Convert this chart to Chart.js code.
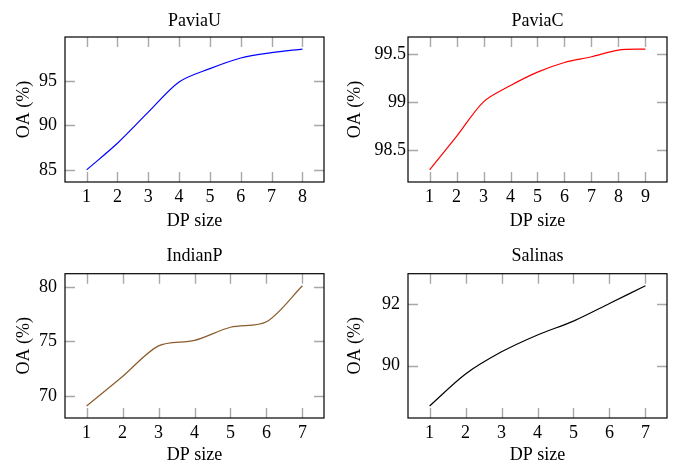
<!DOCTYPE html>
<html>
<head>
<meta charset="utf-8">
<script src="https://cdn.jsdelivr.net/npm/chart.js@4.4.0/dist/chart.umd.min.js"></script>
<style>
    body { margin: 0; background: #fff; }
    .cell { position: absolute; width: 343px; height: 233px; }
</style>
</head>
<body>
<div class="cell" style="left:0;top:0"><canvas id="paviaU" width="343" height="233"></canvas></div>
<div class="cell" style="left:343px;top:0"><canvas id="paviaC" width="343" height="233"></canvas></div>
<div class="cell" style="left:0;top:233px"><canvas id="indianP" width="343" height="233"></canvas></div>
<div class="cell" style="left:343px;top:233px"><canvas id="salinas" width="343" height="233"></canvas></div>
<script>
// ================= Data =================
const paviaUSize = [1, 2, 3, 4, 5, 6, 7, 8];
const paviaUOA = [85.0, 88.0, 91.5, 94.9, 96.4, 97.6, 98.2, 98.6];

const paviaCSize = [1, 2, 3, 4, 5, 6, 7, 8, 9];
const paviaCOA = [98.29, 98.64, 99.0, 99.17, 99.31, 99.41, 99.47, 99.54, 99.55];

const indianPSize = [1, 2, 3, 4, 5, 6, 7];
const indianPOA = [69.1, 71.8, 74.6, 75.1, 76.3, 76.8, 80.1];

const salinasSize = [1, 2, 3, 4, 5, 6, 7];
const salinasOA = [88.69, 89.73, 90.45, 91.0, 91.45, 92.02, 92.6];

const FONT = "'Liberation Serif', 'Times New Roman', serif";

// pgfplots style: box + grey ticks pointing inward on all four sides
const boxTicks = {
    id: "boxTicks",
    afterDraw(chart) {
        const { ctx, chartArea: a, scales } = chart;
        const len = 10;
        ctx.save();
        ctx.strokeStyle = "#a8a8a8";
        ctx.lineWidth = 1.4;
        ctx.beginPath();
        scales.x.ticks.forEach(t => {
            const px = Math.round(scales.x.getPixelForValue(t.value)) + 0.5;
            ctx.moveTo(px, a.bottom); ctx.lineTo(px, a.bottom - len);
            ctx.moveTo(px, a.top); ctx.lineTo(px, a.top + len);
        });
        scales.y.ticks.forEach(t => {
            const py = Math.round(scales.y.getPixelForValue(t.value)) + 0.5;
            ctx.moveTo(a.left, py); ctx.lineTo(a.left + len, py);
            ctx.moveTo(a.right, py); ctx.lineTo(a.right - len, py);
        });
        ctx.stroke();
        ctx.strokeStyle = "#000";
        ctx.lineWidth = 1.2;
        ctx.strokeRect(a.left, a.top, a.right - a.left, a.bottom - a.top);
        ctx.restore();
    }
};

function makeChart(id, title, sizes, values, color, yStep, cfg) {
    const xMin = Math.min(...sizes), xMax = Math.max(...sizes);
    const yMin = Math.min(...values), yMax = Math.max(...values);
    const xPad = (xMax - xMin) * 0.1, yPad = (yMax - yMin) * 0.1;

    return new Chart(document.getElementById(id), {
        type: "line",
        data: {
            datasets: [{
                data: sizes.map((s, i) => ({ x: s, y: values[i] })),
                borderColor: color,
                borderWidth: 1.2,
                pointRadius: 0,
                tension: 0.3,
                fill: false
            }]
        },
        options: {
            responsive: false,
            animation: false,
            layout: { padding: { left: 0, right: 19, top: cfg.top, bottom: 0 } },
            plugins: {
                legend: { display: false },
                tooltip: { enabled: false },
                title: {
                    display: true,
                    fullSize: false,   // centre over the plot box, like pgfplots
                    text: title,
                    color: "#000",
                    font: { family: FONT, size: 18, weight: "normal" },
                    padding: { top: 10, bottom: cfg.titleGap }
                }
            },
            scales: {
                x: {
                    type: "linear",
                    min: xMin - xPad,
                    max: xMax + xPad,
                    grid: { display: false, drawTicks: false },
                    border: { display: false },
                    ticks: {
                        stepSize: 1,
                        includeBounds: false,
                        padding: 4,
                        color: "#000",
                        font: { family: FONT, size: 18 }
                    },
                    title: {
                        display: true,
                        text: "DP size",
                        color: "#000",
                        font: { family: FONT, size: 18 },
                        padding: { top: 0, bottom: cfg.xTitlePad }
                    },
                    afterFit: s => { s.height = cfg.xHeight; }
                },
                y: {
                    min: yMin - yPad,
                    max: yMax + yPad,
                    grid: { display: false, drawTicks: false },
                    border: { display: false },
                    ticks: {
                        stepSize: yStep,
                        includeBounds: false,
                        padding: cfg.yTickPad,
                        color: "#000",
                        font: { family: FONT, size: 18 },
                        callback: v => String(+v.toFixed(2))
                    },
                    title: {
                        display: true,
                        text: "OA (%)",
                        color: "#000",
                        font: { family: FONT, size: 18 },
                        padding: { top: cfg.yTitlePad, bottom: 0 }
                    },
                    afterFit: s => { s.width = 65; }
                }
            }
        },
        plugins: [boxTicks]
    });
}

// ================= Charts =================
const topRow = { top: 0, titleGap: 5.4, xHeight: 51, xTitlePad: 1 };
const bottomRow = { top: 2, titleGap: 7.1, xHeight: 48, xTitlePad: 0 };

makeChart("paviaU", "PaviaU", paviaUSize, paviaUOA, "#0000ff", 5,
    { ...topRow, yTickPad: 8, yTitlePad: 13.5 });
makeChart("paviaC", "PaviaC", paviaCSize, paviaCOA, "#ff0000", 0.5,
    { ...topRow, yTickPad: 2, yTitlePad: 1 });
makeChart("indianP", "IndianP", indianPSize, indianPOA, "#8c5a2c", 5,
    { ...bottomRow, yTickPad: 8, yTitlePad: 13.5 });
makeChart("salinas", "Salinas", salinasSize, salinasOA, "#000000", 2,
    { ...bottomRow, yTickPad: 8, yTitlePad: 1 });
</script>
</body>
</html>
